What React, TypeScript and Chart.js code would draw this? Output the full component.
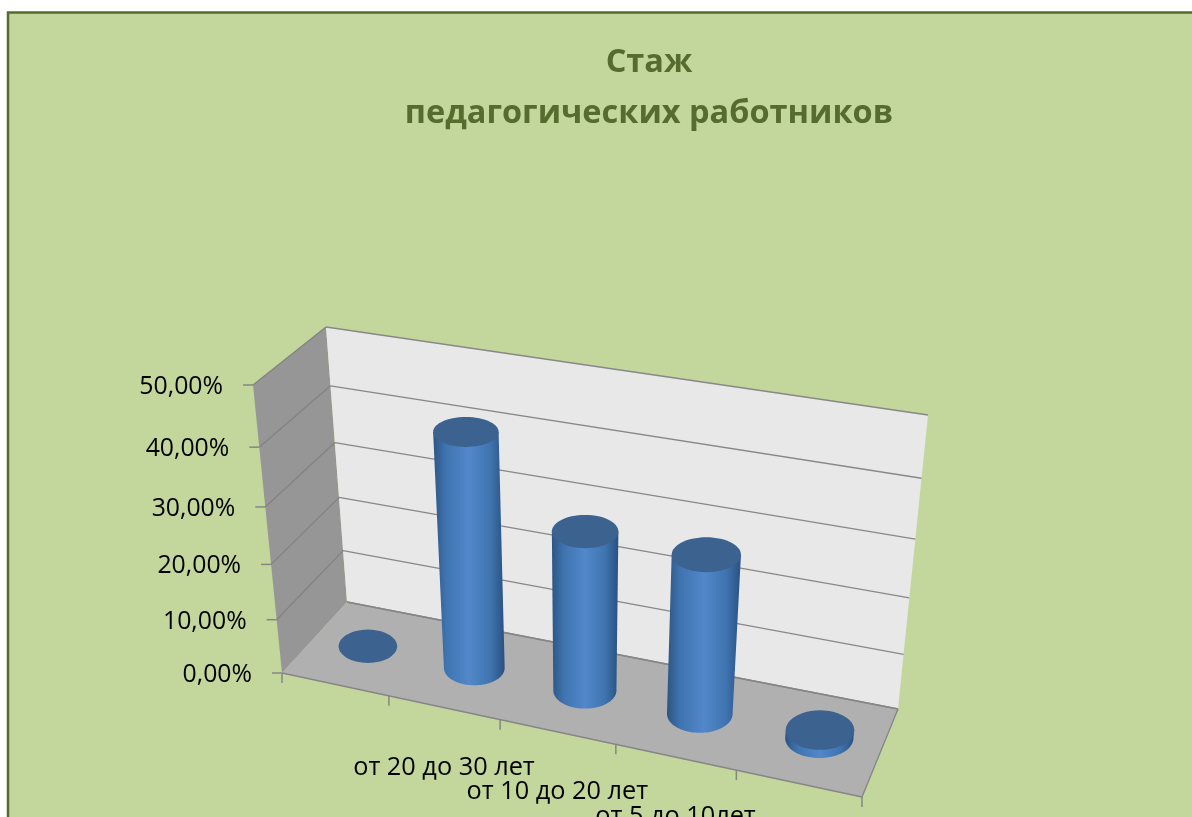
import React, { useEffect, useRef } from "react";
import { Chart, registerables } from "chart.js";

Chart.register(...registerables);

const categories = ["", "от 20 до 30 лет", "от 10 до 20 лет", "от 5 до 10лет", ""];
const shares = [0, 41.8, 28.5, 28.2, 1.5];
const yTickStep = 10;
const yMax = 50;
const titleLines = ["Стаж", "педагогических работников"];

type Pt = [number, number];

// Box corners on screen: the 3D frame of the plot
const A: Pt = [282, 673]; // front-left floor
const B: Pt = [253, 385]; // front-left top
const C: Pt = [347, 602]; // back-left floor
const D: Pt = [326, 327]; // back-left top
const E: Pt = [898, 709]; // back-right floor
const F: Pt = [928, 415]; // back-right top
const G: Pt = [862, 797]; // front-right floor
const H: Pt = [895, 489]; // front-right top

const quadMap = (p0: Pt, p1: Pt, p2: Pt, p3: Pt) => {
  const dx1 = p1[0] - p2[0];
  const dx2 = p3[0] - p2[0];
  const sx = p0[0] - p1[0] + p2[0] - p3[0];
  const dy1 = p1[1] - p2[1];
  const dy2 = p3[1] - p2[1];
  const sy = p0[1] - p1[1] + p2[1] - p3[1];
  const den = dx1 * dy2 - dx2 * dy1;
  const g = (sx * dy2 - dx2 * sy) / den;
  const h = (dx1 * sy - sx * dy1) / den;
  const a = p1[0] - p0[0] + g * p1[0];
  const b = p3[0] - p0[0] + h * p3[0];
  const d = p1[1] - p0[1] + g * p1[1];
  const e = p3[1] - p0[1] + h * p3[1];
  return (u: number, v: number): Pt => {
    const w = g * u + h * v + 1;
    return [(a * u + b * v + p0[0]) / w, (d * u + e * v + p0[1]) / w];
  };
};
const frontPlane = quadMap(A, G, H, B);
const backPlane = quadMap(C, E, F, D);
const project = (u: number, v: number, w: number): Pt => {
  const f = frontPlane(u, v);
  const b = backPlane(u, v);
  return [f[0] + (b[0] - f[0]) * w, f[1] + (b[1] - f[1]) * w];
};

const poly = (ctx: CanvasRenderingContext2D, pts: Pt[], fill: string | CanvasGradient) => {
  ctx.beginPath();
  pts.forEach((p, i) => (i ? ctx.lineTo(p[0], p[1]) : ctx.moveTo(p[0], p[1])));
  ctx.closePath();
  ctx.fillStyle = fill;
  ctx.fill();
};
const seg = (ctx: CanvasRenderingContext2D, p: Pt, q: Pt, color: string, w = 1.3) => {
  ctx.beginPath();
  ctx.moveTo(p[0], p[1]);
  ctx.lineTo(q[0], q[1]);
  ctx.strokeStyle = color;
  ctx.lineWidth = w;
  ctx.stroke();
};

const RU = 0.056;
const RW = 0.23;
const WC = 0.525;
type Disc = { cx: number; cy: number; rx: number; ry: number };
const disc = (u: number, v: number): Disc => {
  const c = project(u, v, WC);
  const rx = (project(u + RU, v, WC)[0] - project(u - RU, v, WC)[0]) / 2;
  const ry = Math.abs(project(u, v, WC + RW)[1] - project(u, v, WC - RW)[1]) / 2;
  return { cx: c[0], cy: c[1], rx, ry };
};
const ellipsePts = (e: Disc, from = 0, to = Math.PI * 2): Pt[] => {
  const out: Pt[] = [];
  for (let i = 0; i <= 60; i++) {
    const t = from + ((to - from) * i) / 60;
    out.push([e.cx + e.rx * Math.cos(t), e.cy + e.ry * Math.sin(t)]);
  }
  return out;
};

const chart3d = {
  id: "chart3d",
  beforeDraw(c: any) {
    const ctx = c.ctx as CanvasRenderingContext2D;
    ctx.save();
    ctx.fillStyle = "#ffffff";
    ctx.fillRect(0, 0, c.width, c.height);
    ctx.fillStyle = "#c3d69b";
    ctx.fillRect(8, 12, c.width - 8, c.height);
    ctx.strokeStyle = "#566b2e";
    ctx.lineWidth = 2.5;
    ctx.strokeRect(8, 12.5, c.width + 20, c.height + 20);
    ctx.restore();
  },
  beforeDatasetsDraw(c: any) {
    const ctx = c.ctx as CanvasRenderingContext2D;
    const y = c.scales.y;
    const x = c.scales.x;
    const area = c.chartArea;
    const vOf = (val: number) => (area.bottom - y.getPixelForValue(val)) / area.height;
    ctx.save();
    poly(ctx, [project(0, 0, 0), project(0, 1, 0), project(0, 1, 1), project(0, 0, 1)], "#969696");
    poly(ctx, [project(0, 0, 1), project(0, 1, 1), project(1, 1, 1), project(1, 0, 1)], "#e8e8e8");
    poly(ctx, [project(0, 0, 0), project(0, 0, 1), project(1, 0, 1), project(1, 0, 0)], "#b0b0b0");
    // walls' grid lines and axis ticks, from the value scale
    ctx.font = "24.8px 'Open Sans'";
    ctx.textAlign = "right";
    ctx.textBaseline = "middle";
    for (const t of y.ticks) {
      const v = vOf(t.value);
      const front = project(0, v, 0);
      const back = project(0, v, 1);
      const right = project(1, v, 1);
      if (t.value > 0) {
        seg(ctx, front, back, "#828282");
      }
      seg(ctx, back, right, "#888888");
      seg(ctx, [front[0] - 10, front[1]], front, "#868686", 1.5);
      ctx.fillStyle = "#000000";
      ctx.fillText(t.label, front[0] - 30, front[1] + 2);
    }
    seg(ctx, project(0, 0, 0), project(1, 0, 0), "#868686");
    seg(ctx, project(1, 0, 0), project(1, 0, 1), "#868686");
    seg(ctx, project(0, 0, 1), project(1, 0, 1), "#868686");
    // category ticks and labels, from the category scale
    const n = x.getLabels().length;
    for (let i = 0; i <= n; i++) {
      const p = project(i / n, 0, 0);
      seg(ctx, p, [p[0], p[1] + 10], "#868686", 1.5);
    }
    ctx.font = "25.3px 'Open Sans'";
    ctx.textAlign = "center";
    x.getLabels().forEach((label: string, i: number) => {
      const u = (x.getPixelForValue(i) - area.left) / area.width;
      const p = project(u, 0, 0);
      ctx.fillStyle = "#000000";
      ctx.fillText(label, p[0], p[1] + 60);
    });
    ctx.restore();
  },
  beforeDatasetDraw() {
    // the bars are drawn as cylinders below
    return false;
  },
  afterDatasetsDraw(c: any) {
    const ctx = c.ctx as CanvasRenderingContext2D;
    const y = c.scales.y;
    const x = c.scales.x;
    const area = c.chartArea;
    ctx.save();
    c.data.datasets[0].data.forEach((val: number, i: number) => {
      const u = (x.getPixelForValue(i) - area.left) / area.width;
      const v = (area.bottom - y.getPixelForValue(val)) / area.height;
      const top = disc(u, v);
      if (val > 0) {
        const bottom = disc(u, 0);
        const x0 = Math.min(bottom.cx - bottom.rx, top.cx - top.rx);
        const x1 = Math.max(bottom.cx + bottom.rx, top.cx + top.rx);
        const g = ctx.createLinearGradient(x0, 0, x1, 0);
        g.addColorStop(0, "#2d5584");
        g.addColorStop(0.18, "#3f74b0");
        g.addColorStop(0.5, "#5288ca");
        g.addColorStop(0.8, "#3f74b0");
        g.addColorStop(1, "#2a5180");
        poly(
          ctx,
          [[top.cx - top.rx, top.cy], [top.cx + top.rx, top.cy], ...ellipsePts(bottom, 0, Math.PI)],
          g,
        );
      }
      poly(ctx, ellipsePts(top), "#3c6290");
    });
    ctx.restore();
  },
};

export default function App() {
  const ref = useRef<HTMLCanvasElement>(null);
  useEffect(() => {
    document.body.style.margin = "0";
    const chart = new Chart(ref.current!, {
      type: "bar",
      data: {
        labels: categories,
        datasets: [{ label: "Стаж педагогических работников", data: shares, backgroundColor: "#4f81bd" }],
      },
      plugins: [chart3d],
      options: {
        animation: false,
        responsive: false,
        layout: { padding: { left: 106, top: 37, right: 0, bottom: 0 } },
        plugins: {
          legend: { display: false },
          tooltip: { enabled: false },
          title: {
            display: true,
            text: titleLines,
            color: "#566b2e",
            font: { family: "'Open Sans'", size: 32.5, weight: "bold", lineHeight: 1.57 },
            padding: { top: 0, bottom: 10 },
          },
        },
        scales: {
          x: { display: false, type: "category" },
          y: {
            display: false,
            min: 0,
            max: yMax,
            ticks: { stepSize: yTickStep, callback: (v: any) => `${Number(v).toFixed(2).replace(".", ",")}%` },
          },
        },
      } as any,
    } as any);
    return () => chart.destroy();
  }, []);
  return <canvas ref={ref} width={1192} height={817} style={{ display: "block", width: 1192, height: 817 }} />;
}
